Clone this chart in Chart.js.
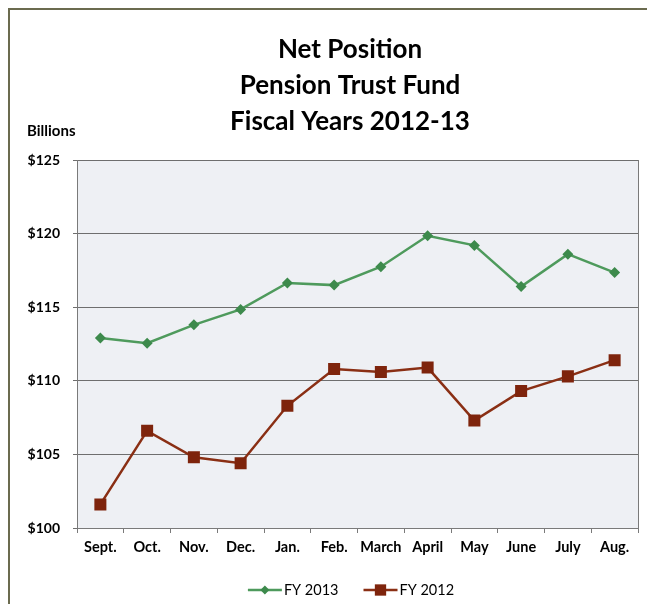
<!DOCTYPE html>
<html>
<head>
<meta charset="utf-8">
<script src="https://cdn.jsdelivr.net/npm/chart.js@4.4.0/dist/chart.umd.min.js"></script>
<style>
  html, body { margin: 0; padding: 0; background: #fff; }
  #wrap { width: 647px; height: 604px; }
</style>
</head>
<body>
<div id="wrap"><canvas id="chart" width="647" height="604"></canvas></div>
<script>
const months = ['Sept.', 'Oct.', 'Nov.', 'Dec.', 'Jan.', 'Feb.', 'March', 'April', 'May', 'June', 'July', 'Aug.'];
const fy2013 = [112.9, 112.55, 113.8, 114.85, 116.65, 116.5, 117.75, 119.85, 119.2, 116.4, 118.6, 117.35];
const fy2012 = [101.6, 106.6, 104.8, 104.4, 108.3, 110.8, 110.6, 110.9, 107.3, 109.3, 110.3, 111.4];
const titleLines = ['Net Position', 'Pension Trust Fund', 'Fiscal Years 2012-13'];

const FONT = 'Lato, Calibri, sans-serif';
const GREEN = '#4e9a5c';
const GREEN_DARK = '#3d8a4c';
const BROWN = '#8a2f14';
const BROWN_DARK = '#7e240c';

// background, outer frame, plot fill, title, legend
const decor = {
    id: 'decor',
    beforeDraw(chart) {
        const ctx = chart.ctx;
        const a = chart.chartArea;
        ctx.save();
        ctx.fillStyle = '#ffffff';
        ctx.fillRect(0, 0, chart.width, chart.height);
        ctx.strokeStyle = '#6b6b4f';
        ctx.lineWidth = 2;
        ctx.strokeRect(9, 9, chart.width + 20, chart.height + 20);
        ctx.fillStyle = '#eef0f4';
        ctx.fillRect(a.left, a.top, a.right - a.left, a.bottom - a.top);
        ctx.restore();
    },
    afterDraw(chart) {
        const ctx = chart.ctx;
        const a = chart.chartArea;
        ctx.save();
        // right edge of plot box
        ctx.strokeStyle = '#7a7a7a';
        ctx.lineWidth = 1;
        ctx.beginPath();
        ctx.moveTo(a.right + 0.5, a.top);
        ctx.lineTo(a.right + 0.5, a.bottom);
        ctx.stroke();

        ctx.fillStyle = '#000';
        ctx.textAlign = 'center';
        ctx.textBaseline = 'middle';
        ctx.font = 'bold 26px ' + FONT;
        titleLines.forEach((t, i) => ctx.fillText(t, 350, 50 + i * 36));

        ctx.textAlign = 'left';
        ctx.font = 'bold 15px ' + FONT;
        ctx.fillText('Billions', 27, 131);

        // legend
        const items = [
            { text: 'FY 2013', color: GREEN, mark: GREEN_DARK, style: 'rectRot', r: 4.5 },
            { text: 'FY 2012', color: BROWN, mark: BROWN_DARK, style: 'rect', r: 8 }
        ];
        ctx.font = '14.5px ' + FONT;
        const lineLen = 34, gap = 2, between = 25;
        let total = 0;
        items.forEach((it, i) => {
            total += lineLen + gap + ctx.measureText(it.text).width + (i ? between : 0);
        });
        let x = 351 - total / 2;
        const y = 590;
        items.forEach((it, i) => {
            if (i) x += between;
            ctx.strokeStyle = it.color;
            ctx.lineWidth = 2.5;
            ctx.beginPath();
            ctx.moveTo(x, y);
            ctx.lineTo(x + lineLen, y);
            ctx.stroke();
            ctx.fillStyle = it.mark;
            Chart.helpers.drawPoint(ctx, { pointStyle: it.style, radius: it.r, rotation: 0, borderWidth: 0 }, x + lineLen / 2, y);
            x += lineLen + gap;
            ctx.fillStyle = '#000';
            ctx.textBaseline = 'middle';
            ctx.fillText(it.text, x, y);
            x += ctx.measureText(it.text).width;
        });
        ctx.restore();
    }
};

new Chart(document.getElementById('chart'), {
    type: 'line',
    data: {
        labels: months,
        datasets: [{
            label: 'FY 2013',
            data: fy2013,
            borderColor: GREEN,
            backgroundColor: GREEN_DARK,
            borderWidth: 2.5,
            pointStyle: 'rectRot',
            pointRadius: 5.5,
            pointBorderWidth: 0,
            tension: 0
        }, {
            label: 'FY 2012',
            data: fy2012,
            borderColor: BROWN,
            backgroundColor: BROWN_DARK,
            borderWidth: 2.5,
            pointStyle: 'rect',
            pointRadius: 8.5,
            pointBorderWidth: 0,
            tension: 0
        }]
    },
    options: {
        responsive: false,
        animation: false,
        layout: { padding: { top: 160, left: 8, right: 9, bottom: 0 } },
        plugins: {
            legend: { display: false },
            title: { display: false },
            tooltip: { enabled: false }
        },
        scales: {
            x: {
                offset: true,
                afterFit(scale) { scale.height = 76; },
                grid: { offset: true, drawOnChartArea: false, drawTicks: true, tickLength: 5, color: '#7a7a7a' },
                border: { display: true, color: '#7a7a7a', width: 1 },
                ticks: { color: '#000', padding: 6, font: { family: FONT, size: 14.5, weight: 'bold' }, maxRotation: 0, autoSkip: false }
            },
            y: {
                min: 100,
                max: 125,
                afterFit(scale) { scale.width = 69; },
                grid: { color: '#6e6e6e', lineWidth: 1, tickLength: 4 },
                border: { display: true, color: '#7a7a7a', width: 1 },
                ticks: {
                    stepSize: 5,
                    color: '#000',
                    padding: 13,
                    font: { family: FONT, size: 14, weight: 'bold' },
                    callback: v => '$' + v
                }
            }
        }
    },
    plugins: [decor]
});
</script>
</body>
</html>
